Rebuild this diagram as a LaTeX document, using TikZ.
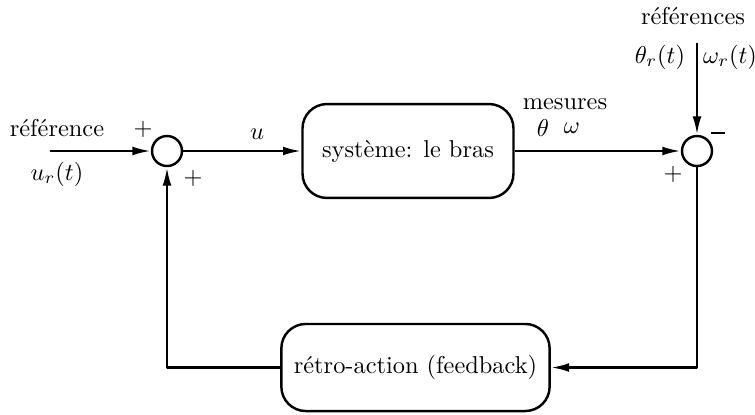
\documentclass[tikz,border=0pt]{standalone}
\usetikzlibrary{arrows.meta}
\tikzset{
  bloc/.style={draw,line width=1pt,rounded corners=10pt,inner sep=0pt},
  somme/.style={draw,circle,line width=1pt,minimum size=12.3pt,inner sep=0pt},
}
\begin{document}
\begin{tikzpicture}[x=0.41pt,y=-0.41pt,line width=1pt,line join=round,>={Latex[length=7.5pt,width=3.6pt]}]
\useasboundingbox (0,0) rectangle (755,414);
\node[somme] (sumL) at (167,151) {};
\node[somme] (sumR) at (697,151) {};
\node[bloc,minimum width=86.5pt,minimum height=38.5pt] (sys) at (408,151) {syst\`eme: le bras};
\node[bloc,minimum width=110pt,minimum height=35.7pt] (retro) at (415.5,367.5) {r\'etro-action (feedback)};
\coordinate (in) at (50,151);
\coordinate (top) at (697,43);
\coordinate (cR) at (697,367.5);
\coordinate (cL) at (167,367.5);
% liaisons
\draw[->] (in)--(sumL);
\draw[->] (sumL)--(sys);
\draw[->] (sys)--(sumR);
\draw[->] (top)--(sumR);
\draw[->] (sumR.south)--(cR)--(retro.east);
\draw[->] (retro.west)--(cL)--(sumL.south);
% textes
\node (tref) at (57,128) {r\'ef\'erence};
\node (tur) at (57,174) {$u_r(t)$};
\node (pL1) at (143,129) {$+$};
\node (pL2) at (193,178) {$+$};
\node (tu) at (257,134) {$u$};
\node (tmes) at (565,104) {mesures};
\node (tth) at (543,128) {$\theta$};
\node (tom) at (572,128) {$\omega$};
\node (trefs) at (693,16) {r\'ef\'erences};
\node (tthr) at (660,57) {$\theta_r(t)$};
\node (tomr) at (730,57) {$\omega_r(t)$};
\node (mR) at (718,133) {\rule{6pt}{1.1pt}};
\node (pR) at (673,174) {$+$};
\end{tikzpicture}
\end{document}
